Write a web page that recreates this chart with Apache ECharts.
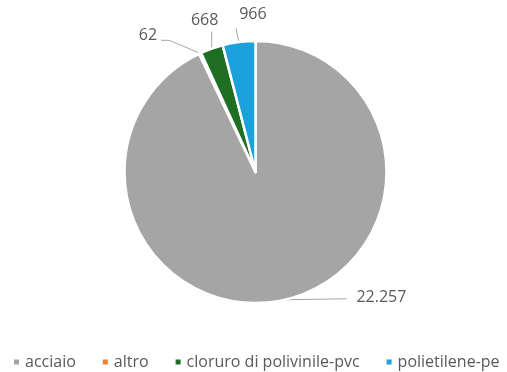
<!DOCTYPE html>
<html>
<head>
<meta charset="utf-8">
<script src="https://cdn.jsdelivr.net/npm/echarts@6/dist/echarts.min.js"></script>
<style>
  html, body { margin: 0; padding: 0; background: #fff; }
  #chart { width: 507px; height: 372px; }
</style>
</head>
<body>
<div id="chart"></div>
<script>
// Pipe material breakdown
const categories = ['acciaio', 'altro', 'cloruro di polivinile-pvc', 'polietilene-pe'];
const values = [22257, 62, 668, 966];
const colors = ['#a5a5a5', '#ed7d31', '#1e6e23', '#1ba1dc'];

const fmt = v => v.toLocaleString('it-IT');
const FONT = 'Open Sans, Noto Sans, sans-serif';

// Label placement per slice, relative to where the slice's leader line starts
// (text offset, alignment, and the bend points of the leader line).
const labelPlacement = [
  { dx: 72, dy: -2, align: 'left', va: 'middle', line: [[62, -1], [62, -1]] },
  { dx: -43, dy: -18, align: 'right', va: 'middle', line: [[-31, -13], [-39, -13]] },
  { dx: -7, dy: -20, align: 'center', va: 'bottom', line: [[0, -17], [0, -17]] },
  { dx: 14, dy: -20, align: 'center', va: 'bottom', line: [[-3, -14], [-3, -14]] }
];

const chart = echarts.init(document.getElementById('chart'));
chart.setOption({
  animation: false,
  color: colors,
  textStyle: { fontFamily: FONT },
  legend: {
    top: 354,
    left: 12,
    width: 600,
    padding: 0,
    itemWidth: 7,
    itemHeight: 7,
    itemGap: 25,
    icon: 'rect',
    textStyle: { fontSize: 16, color: '#595959', fontFamily: FONT },
    data: categories
  },
  series: [{
    type: 'pie',
    center: [255.5, 172],
    radius: 131,
    startAngle: 90,
    clockwise: true,
    avoidLabelOverlap: false,
    itemStyle: { borderColor: '#fff', borderWidth: 2.5 },
    label: {
      show: true,
      formatter: p => fmt(p.value),
      fontSize: 16,
      color: '#595959',
      fontFamily: FONT
    },
    labelLine: {
      show: true,
      length: 12,
      length2: 14,
      lineStyle: { color: '#a6a6a6', width: 1 }
    },
    labelLayout: params => {
      const pl = labelPlacement[params.dataIndex];
      const a = params.labelLinePoints[0];
      return {
        x: a[0] + pl.dx,
        y: a[1] + pl.dy,
        align: pl.align,
        verticalAlign: pl.va,
        labelLinePoints: [
          [a[0], a[1]],
          [a[0] + pl.line[0][0], a[1] + pl.line[0][1]],
          [a[0] + pl.line[1][0], a[1] + pl.line[1][1]]
        ]
      };
    },
    data: categories.map((c, i) => ({ name: c, value: values[i] }))
  }]
});
</script>
</body>
</html>
